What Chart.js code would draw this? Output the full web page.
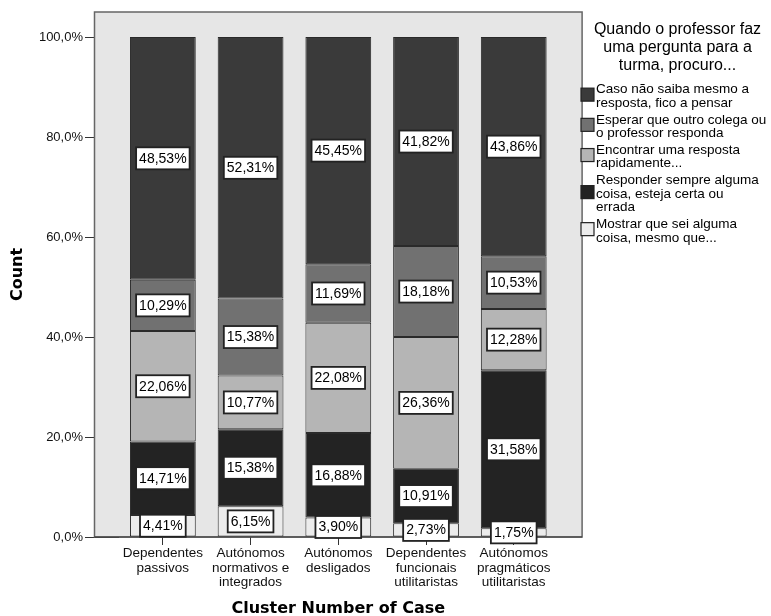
<!DOCTYPE html>
<html>
<head>
<meta charset="utf-8">
<script src="https://cdn.jsdelivr.net/npm/chart.js"></script>
<style>
  html, body { margin: 0; padding: 0; background: #fff; }
</style>
</head>
<body>
<canvas id="grafico" width="771" height="616"></canvas>
<script>
const categorias = [
  ['Dependentes', 'passivos'],
  ['Autónomos', 'normativos e', 'integrados'],
  ['Autónomos', 'desligados'],
  ['Dependentes', 'funcionais', 'utilitaristas'],
  ['Autónomos', 'pragmáticos', 'utilitaristas']
];
// series, de baixo para cima
const series = [
  ['Mostrar que sei alguma', 'coisa, mesmo que...'],
  ['Responder sempre alguma', 'coisa, esteja certa ou', 'errada'],
  ['Encontrar uma resposta', 'rapidamente...'],
  ['Esperar que outro colega ou', 'o professor responda'],
  ['Caso não saiba mesmo a', 'resposta, fico a pensar']
];
const mostrar = [4.41, 6.15, 3.90, 2.73, 1.75];
const responder = [14.71, 15.38, 16.88, 10.91, 31.58];
const encontrar = [22.06, 10.77, 22.08, 26.36, 12.28];
const esperar = [10.29, 15.38, 11.69, 18.18, 10.53];
const caso = [48.53, 52.31, 45.45, 41.82, 43.86];
const ticksY = [0, 20, 40, 60, 80, 100];
const tituloLegenda = ['Quando o professor faz', 'uma pergunta para a', 'turma, procuro...'];

const cores = ['#ececec', '#232323', '#b5b5b5', '#717171', '#3a3a3a'];
const valores = [mostrar, responder, encontrar, esperar, caso];
const fonte = '"Liberation Sans", Arial, sans-serif';

const moldura = {
  id: 'moldura',
  beforeDatasetsDraw(chart) {
    const { ctx, chartArea: a } = chart;
    const x0 = a.left - 24.5, x1 = a.right + 24.5;
    ctx.save();
    ctx.fillStyle = '#e6e6e6';
    ctx.fillRect(x0, a.top, x1 - x0, a.bottom - a.top);
    ctx.strokeStyle = '#666';
    ctx.lineWidth = 1.5;
    ctx.strokeRect(x0, a.top, x1 - x0, a.bottom - a.top);
    ctx.strokeStyle = '#333';
    ctx.lineWidth = 1.2;
    ctx.beginPath();
    ctx.moveTo(x0, a.bottom);
    ctx.lineTo(x1, a.bottom);
    ctx.stroke();
    ctx.restore();
  }
};

const rotulos = {
  id: 'rotulos',
  afterDatasetsDraw(chart) {
    const ctx = chart.ctx;
    ctx.save();
    ctx.font = '14px ' + fonte;
    ctx.textAlign = 'center';
    ctx.textBaseline = 'middle';
    chart.data.datasets.forEach((ds, i) => {
      chart.getDatasetMeta(i).data.forEach((bar, j) => {
        const txt = ds.data[j].toFixed(2).replace('.', ',') + '%';
        const y = (bar.y + bar.base) / 2;
        const w = ctx.measureText(txt).width + 6;
        const h = 22;
        ctx.fillStyle = '#fff';
        ctx.fillRect(bar.x - w / 2, y - h / 2, w, h);
        ctx.strokeStyle = '#222';
        ctx.lineWidth = 1.8;
        ctx.strokeRect(bar.x - w / 2, y - h / 2, w, h);
        ctx.fillStyle = '#000';
        ctx.fillText(txt, bar.x, y + 0.5);
      });
    });
    ctx.restore();
  }
};

const legenda = {
  id: 'legenda',
  afterDraw(chart) {
    const ctx = chart.ctx;
    ctx.save();
    ctx.fillStyle = '#000';
    ctx.textBaseline = 'alphabetic';
    ctx.textAlign = 'center';
    ctx.font = '16px ' + fonte;
    tituloLegenda.forEach((t, i) => ctx.fillText(t, 677.5, 33.5 + i * 18.3));
    ctx.font = '13.5px ' + fonte;
    ctx.textAlign = 'left';
    let y = 93.3;
    for (let i = series.length - 1; i >= 0; i--) {
      const linhas = series[i];
      const meio = y + (linhas.length - 1) * 13.7 / 2 - 5.5;
      ctx.fillStyle = cores[i];
      ctx.fillRect(581, meio - 6.5, 13, 13);
      ctx.strokeStyle = '#222';
      ctx.lineWidth = 1.2;
      ctx.strokeRect(581, meio - 6.5, 13, 13);
      ctx.fillStyle = '#000';
      linhas.forEach((l, k) => ctx.fillText(l, 596, y + k * 13.7));
      y += (linhas.length - 1) * 13.7 + 16.5;
    }
    ctx.restore();
  }
};

new Chart(document.getElementById('grafico'), {
  type: 'bar',
  data: {
    labels: categorias,
    datasets: series.map((s, i) => ({
      label: s.join(' '),
      data: valores[i],
      backgroundColor: cores[i],
      borderColor: '#2a2a2a',
      borderWidth: 1,
      borderSkipped: false,
      barPercentage: 0.75,
      categoryPercentage: 1
    }))
  },
  options: {
    responsive: false,
    animation: false,
    layout: { padding: { top: 12, right: 213.4, left: 0, bottom: 0 } },
    plugins: {
      legend: { display: false },
      tooltip: { enabled: false }
    },
    scales: {
      x: {
        stacked: true,
        offset: true,
        border: { display: false },
        grid: { display: true, drawOnChartArea: false, offset: false, drawTicks: true, tickLength: 8, color: '#333' },
        ticks: {
          color: '#111',
          font: { family: fonte, size: 13.5, lineHeight: 1.08 },
          padding: 1,
          maxRotation: 0,
          autoSkip: false
        },
        title: {
          display: true,
          text: 'Cluster Number of Case',
          color: '#000',
          font: { family: '"DejaVu Sans", sans-serif', size: 16, weight: 'bold' },
          padding: { top: 0, bottom: -2 }
        },
        afterFit(s) { s.height = 79; }
      },
      y: {
        stacked: true,
        min: 0,
        max: 105,
        border: { display: false },
        grid: { display: true, drawOnChartArea: false, drawTicks: true, tickLength: 34, color: '#333' },
        afterBuildTicks(s) { s.ticks = ticksY.map(v => ({ value: v })); },
        ticks: {
          color: '#111',
          font: { family: fonte, size: 13 },
          padding: 2,
          callback: v => v.toFixed(1).replace('.', ',') + '%'
        },
        title: {
          display: true,
          text: 'Count',
          color: '#000',
          font: { family: '"DejaVu Sans", sans-serif', size: 16, weight: 'bold' },
          padding: { top: 8, bottom: 0 }
        },
        afterFit(s) { s.width = 119; }
      }
    }
  },
  plugins: [moldura, rotulos, legenda]
});
</script>
</body>
</html>
